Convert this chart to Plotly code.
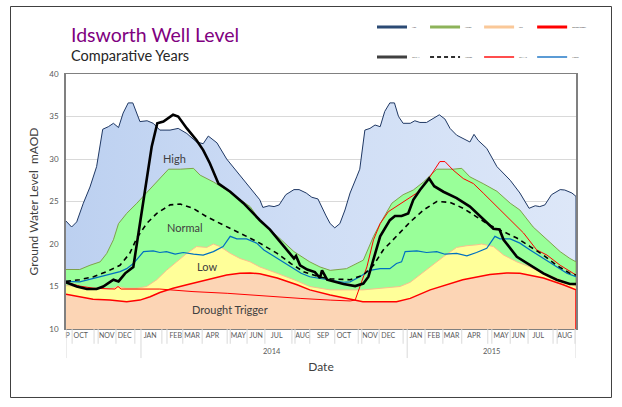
import plotly.graph_objects as go

# ---------------- data (x = week index along the category axis) ----------------
high_x = [0, 1.1, 2.1, 3.4, 4.7, 6.0, 7.2, 8.3, 9.3, 10.3, 11.2, 12.2, 13.1, 14.5, 15.9, 17.1, 18.4, 20.4, 22.0, 23.7,
          25.6, 26.9, 27.9, 29.6, 31.5, 35.4, 38.0, 38.6, 39.8, 40.8, 41.8, 43.1, 44.7, 45.7, 47.1, 48.2, 49.4, 51.0, 51.8, 52.7,
          53.7, 54.7, 55.7, 57.0, 57.6, 58.6, 59.6, 60.6, 61.6, 62.5, 63.5, 64.4, 65.2, 66.1, 67.5, 68.4, 69.4, 70.7, 72.0, 73.2,
          74.3, 75.3, 76.6, 78.6, 79.2, 80.0, 80.8, 82.5, 84.5, 87.1, 89.0, 90.8, 92.0, 92.9, 93.9, 95.2, 96.9, 97.8, 99.2, 100]
high_y = [22.7, 22.0, 22.6, 24.8, 26.7, 29.1, 33.5, 33.8, 34.2, 33.7, 35.4, 36.6, 36.6, 34.4, 34.5, 34.2, 33.4, 33.4, 33.6, 33.0,
          32.0, 31.8, 32.7, 31.9, 30.0, 27.1, 25.2, 24.3, 24.5, 24.4, 24.6, 25.8, 26.4, 26.4, 26.0, 25.5, 25.3, 23.3, 22.4, 21.9,
          22.4, 24.0, 26.0, 27.9, 28.8, 33.4, 33.6, 34.0, 33.8, 35.6, 36.6, 36.6, 35.0, 34.2, 34.2, 34.5, 34.3, 34.3, 34.8, 35.2,
          34.7, 33.6, 32.8, 32.2, 32.0, 32.9, 32.2, 31.25, 29.1, 27.5, 26.0, 24.2, 24.5, 24.4, 24.6, 25.8, 26.4, 26.35, 26.0, 25.6]

normal_x = [0, 2.7, 4.7, 6.7, 8.0, 9.3, 10.3, 11.9, 13.9, 15.8, 17.8, 20.1, 22.4, 25.0, 26.3, 28.9, 31.5, 34.1, 36.1, 38.0,
            39.4, 42.2, 44.7, 46.7, 47.8, 49.8, 51.8, 55.0, 58.3, 60.3, 61.6, 63.9, 66.1, 68.1, 70.1, 72.7, 75.9, 77.6, 79.2, 81.8,
            84.5, 87.1, 89.0, 91.6, 94.3, 96.9, 98.8, 100]
normal_y = [17.0, 17.0, 17.5, 17.9, 18.9, 20.5, 22.4, 23.6, 24.8, 26.0, 27.3, 28.8, 28.8, 28.9, 28.1, 27.3, 26.35, 25.2, 24.4, 22.8,
            22.0, 20.5, 19.1, 18.3, 17.9, 17.3, 16.9, 17.1, 18.1, 20.9, 22.4, 24.8, 25.8, 26.35, 27.3, 28.8, 28.8, 28.9, 27.9, 27.1,
            26.2, 24.8, 24.0, 22.0, 20.5, 19.1, 18.3, 17.9]

low_x = [0, 2.7, 5.7, 8.6, 10.2, 11.6, 13.9, 15.8, 17.8, 19.7, 21.7, 23.7, 25.6, 27.6, 28.9, 30.2, 32.2, 34.1, 36.1, 38.0,
         41.4, 44.7, 47.8, 51.8, 58.2, 61.6, 65.5, 67.5, 69.4, 71.4, 74.0, 76.6, 78.6, 80.5, 81.5, 83.8, 85.8, 88.4, 91.0, 93.6,
         96.9, 100]
low_y = [15.1, 15.0, 14.8, 14.7, 15.0, 14.8, 14.8, 15.0, 15.8, 16.9, 17.9, 18.9, 19.7, 19.6, 20.0, 19.7, 18.9, 18.3, 17.9, 17.3,
         16.55, 15.8, 15.0, 14.6, 14.6, 14.8, 15.0, 15.5, 16.4, 17.3, 18.5, 19.6, 19.8, 19.9, 20.0, 19.7, 18.7, 17.9, 17.3, 16.55,
         15.8, 15.0]

drought_x = [0, 2.7, 5.3, 8.6, 11.9, 14.5, 16.5, 18.4, 21.0, 23.7, 26.3, 28.9, 31.5, 34.1, 36.1, 38.0, 41.4, 45.3, 47.8, 51.8,
             54.7, 58.2, 64.8, 67.5, 71.4, 77.8, 83.1, 86.4, 89.0, 93.6, 97.5, 100]
drought_y = [14.1, 13.8, 13.5, 13.4, 13.2, 13.4, 13.8, 14.3, 14.8, 15.2, 15.6, 16.0, 16.35, 16.55, 16.6, 16.5, 16.0, 15.2, 14.6, 14.0,
             13.6, 13.2, 13.2, 13.6, 14.6, 15.8, 16.4, 16.6, 16.55, 16.0, 15.2, 14.6]

red_x = [0, 2.7, 5.3, 8.6, 9.6, 10.2, 10.8, 18.4, 24.9, 31.6, 38.0, 45.9, 51.8, 55.7, 56.7, 57.6, 59.0, 60.3, 61.6, 63.2,
         64.8, 66.8, 68.8, 70.7, 72.0, 73.3, 74.3, 75.9, 77.9, 79.9, 81.8, 84.5, 87.1, 89.7, 92.3, 94.3, 96.9, 98.8, 100]
red_y = [15.5, 15.05, 14.8, 14.7, 14.7, 15.0, 14.7, 14.7, 14.4, 14.2, 13.9, 13.6, 13.4, 13.3, 13.4, 15.0, 17.3, 20.5, 22.4, 23.8,
         24.4, 25.2, 26.0, 27.3, 28.5, 29.7, 29.7, 28.7, 27.7, 27.1, 26.0, 24.4, 22.8, 21.3, 19.3, 18.7, 17.5, 16.75, 16.35]

black_x = [0, 2.1, 4.1, 6.0, 7.3, 9.3, 10.3, 11.6, 13.2, 14.2, 15.5, 16.8, 17.9, 19.1, 21.0, 22.0, 23.7, 25.6, 26.9, 28.2,
           29.9, 32.2, 34.8, 38.0, 40.0, 42.0, 43.9, 44.7, 45.1, 45.9, 47.3, 48.8, 49.8, 50.2, 51.2, 54.4, 56.7, 58.3, 59.3, 60.3,
           61.6, 63.5, 64.5, 65.8, 67.1, 68.1, 69.4, 71.2, 72.2, 74.0, 76.6, 79.2, 81.8, 83.8, 85.0, 85.8, 88.4, 91.0, 93.6, 96.2,
           98.8, 100]
black_y = [15.5, 15.0, 14.7, 14.7, 15.0, 15.8, 15.6, 16.55, 17.3, 21.3, 26.35, 31.45, 34.2, 34.4, 35.2, 35.0, 33.6, 32.2, 31.05, 29.5,
           27.1, 26.15, 24.8, 22.8, 21.7, 20.2, 18.9, 18.3, 18.6, 17.5, 17.0, 16.7, 16.0, 16.9, 15.8, 15.3, 15.05, 15.35, 16.15, 18.1,
           20.9, 22.8, 23.3, 23.3, 23.6, 25.2, 26.35, 27.7, 26.8, 26.15, 25.4, 24.4, 22.9, 21.8, 21.7, 20.5, 18.5, 17.5, 16.55, 15.8,
           15.3, 15.3]

avg_x = [0, 2.7, 5.4, 8.0, 10.6, 12.5, 13.9, 15.8, 17.8, 20.4, 22.4, 24.9, 27.6, 30.2, 32.8, 35.4, 38.0, 41.4, 44.1, 46.7,
         49.8, 51.8, 55.7, 58.3, 60.3, 62.2, 64.8, 67.5, 70.1, 72.7, 75.3, 77.9, 80.5, 83.1, 85.8, 88.4, 91.0, 93.6, 96.2, 98.8, 100]
avg_y = [15.6, 15.8, 16.15, 16.75, 17.5, 18.9, 20.7, 22.4, 23.6, 24.6, 24.7, 24.2, 23.2, 22.4, 21.65, 20.9, 20.1, 18.9, 17.7, 16.7,
         16.1, 15.9, 15.8, 16.35, 17.5, 19.3, 20.9, 22.6, 24.0, 25.0, 24.9, 24.2, 23.2, 22.2, 21.45, 20.7, 19.7, 18.7, 17.5, 16.55, 16.35]

blue_x = [0, 2.7, 5.4, 8.0, 10.6, 11.9, 13.2, 15.2, 17.1, 18.4, 19.7, 21.4, 23.0, 25.0, 26.9, 28.9, 30.8, 32.2, 33.5, 35.4,
          37.4, 38.8, 41.4, 44.1, 46.1, 47.8, 51.8, 54.4, 55.7, 57.6, 59.6, 61.6, 63.5, 64.8, 65.8, 66.5, 68.8, 70.7, 72.7, 74.3,
          76.6, 78.6, 80.5, 82.5, 84.1, 85.1, 87.1, 89.0, 91.0, 93.6, 96.2, 98.2, 100]
blue_y = [15.6, 15.55, 15.95, 16.35, 16.75, 17.1, 17.7, 19.1, 19.2, 19.0, 19.1, 18.8, 19.0, 18.8, 18.7, 19.1, 19.7, 20.9, 20.6, 20.6,
          20.1, 19.3, 18.3, 17.3, 16.55, 16.15, 15.8, 15.5, 15.55, 16.15, 16.9, 17.1, 17.1, 17.7, 17.9, 19.1, 19.2, 19.0, 19.1, 18.8,
          18.9, 18.6, 19.0, 19.5, 20.9, 20.6, 20.6, 20.1, 19.3, 18.3, 17.3, 16.55, 16.15]

month_labels = ["P", "OCT", "NOV", "DEC", "JAN", "FEB", "MAR", "APR", "MAY", "JUN", "JUL", "AUG",
                "SEP", "OCT", "NOV", "DEC", "JAN", "FEB", "MAR", "APR", "MAY", "JUN", "JUL", "AUG"]
month_pos = [0.3, 2.9, 8.0, 11.5, 16.5, 21.5, 24.7, 28.7, 33.8, 37.3, 41.3, 46.4,
             50.4, 54.5, 59.6, 63.2, 68.6, 72.1, 75.6, 80.0, 85.3, 88.7, 92.6, 97.8]
label_separators = [1.2, 5.5, 6.3, 9.8, 13.5, 18.8, 19.8, 22.9, 26.7, 31.6, 32.2, 35.5, 39.0, 44.3, 44.9, 47.8,
                    52.7, 57.3, 58.0, 61.4, 66.1, 70.4, 73.9, 77.6, 82.7, 83.5, 87.1, 90.6, 95.5, 96.3, 99.8]
year_labels = ["2014", "2015"]
year_label_pos = [40.4, 83.5]
year_bounds = [0, 14.7, 66.9, 100]

AXIS_FLOOR = 0  # areas are filled down to the zero line (below the visible range)

FONT = "Lato, Carlito, Calibri, 'Open Sans', sans-serif"

fig = go.Figure()


def add_area(xs, ys, line_color, fill_color, width, fillgradient=None):
    px = list(xs) + [xs[-1], xs[0]]
    py = list(ys) + [AXIS_FLOOR, AXIS_FLOOR]
    kw = dict(fillgradient=fillgradient) if fillgradient else dict(fillcolor=fill_color)
    fig.add_trace(go.Scatter(x=px, y=py, mode="lines", fill="toself",
                             line=dict(color=line_color, width=width),
                             showlegend=False, hoverinfo="skip", **kw))


add_area(high_x, high_y, "#1F3864", None, 1,
         fillgradient=dict(type="horizontal",
                           colorscale=[[0, "#BCD0F0"], [0.45, "#CEDDF5"], [1, "#DDE7F8"]]))
add_area(normal_x, normal_y, "#7FA24A", "#99FF99", 1)
add_area(low_x, low_y, "#F9C08E", "#FFFF99", 1)
add_area(drought_x, drought_y, "#FF0000", "#FCD5B5", 1.5)

fig.add_trace(go.Scatter(x=red_x, y=red_y, mode="lines", line=dict(color="#FF0000", width=1),
                         showlegend=False, hoverinfo="skip"))
fig.add_trace(go.Scatter(x=blue_x, y=blue_y, mode="lines", line=dict(color="#0070C0", width=1.2),
                         showlegend=False, hoverinfo="skip"))
fig.add_trace(go.Scatter(x=avg_x, y=avg_y, mode="lines", line=dict(color="#000000", width=1.6, dash="5px,4px"),
                         showlegend=False, hoverinfo="skip"))
fig.add_trace(go.Scatter(x=black_x, y=black_y, mode="lines", line=dict(color="#000000", width=2.6),
                         showlegend=False, hoverinfo="skip"))

# legend entries: 2 rows x 4 columns, one small legend box per entry
legend_items = [
    ("High", "#2B4A74", 3, "solid"), ("Normal", "#8DB35A", 3, "solid"),
    ("Low", "#FAC898", 3, "solid"), ("Drought Trigger", "#FF0000", 3, "solid"),
    ("2013-14", "#404040", 3, "solid"), ("Average", "#303030", 2, "4px,3px"),
    ("2014-15", "#FF4D4D", 2, "solid"), ("Median", "#5B9BD5", 2, "solid"),
]
legend_cols = [0.600, 0.704, 0.810, 0.914]
legend_rows = [1.184, 1.067]

legend_layout = {}
for i, (name, col, w, dash) in enumerate(legend_items):
    lg = "legend" if i == 0 else f"legend{i + 1}"
    fig.add_trace(go.Scatter(x=[None], y=[None], mode="lines", name=name, legend=lg,
                             line=dict(color=col, width=w, dash=dash)))
    legend_layout[lg] = dict(x=legend_cols[i % 4], y=legend_rows[i // 4], xanchor="left", yanchor="middle",
                             orientation="h", itemwidth=30, bgcolor="rgba(0,0,0,0)", borderwidth=0,
                             font=dict(size=2, color="#404040", family=FONT))

fig.update_layout(
    width=622, height=407,
    margin=dict(l=66, r=46, t=74, b=78, autoexpand=False),
    paper_bgcolor="white", plot_bgcolor="white",
    font=dict(family=FONT, color="#404040"),
    xaxis=dict(range=[0, 100], tickmode="array", tickvals=month_pos, ticktext=month_labels,
               ticks="", tickangle=0, tickfont=dict(size=7, color="#595959"), showgrid=False, zeroline=False,
               showline=True, mirror=True, linecolor="#808080", linewidth=1,
               title=dict(text="Date", font=dict(size=12, color="#404040"), standoff=24)),
    yaxis=dict(range=[10, 40], dtick=5, tick0=10, showgrid=True, gridcolor="#D9D9D9", gridwidth=1,
               zeroline=False, showline=True, mirror=True, linecolor="#808080", linewidth=1.5,
               ticks="outside", ticklen=4, tickcolor="rgba(0,0,0,0)",
               tickfont=dict(size=8, color="#595959"),
               title=dict(text="Ground Water Level  mAOD", font=dict(size=12, color="#404040"), standoff=8)),
    **legend_layout,
)

shapes = []
for s in label_separators:
    shapes.append(dict(type="line", xref="x", yref="paper", x0=s, x1=s, y0=0, y1=-0.058,
                       line=dict(color="#D9D9D9", width=1)))
for b in year_bounds:
    shapes.append(dict(type="line", xref="x", yref="paper", x0=b, x1=b, y0=0, y1=-0.114,
                       line=dict(color="#D9D9D9", width=1)))
shapes.append(dict(type="rect", xref="paper", yref="paper", x0=-0.1088, x1=1.0696, y0=-0.2686, y1=1.2647,
                   line=dict(color="#404040", width=1), fillcolor="rgba(0,0,0,0)", layer="below"))
fig.update_layout(shapes=shapes)

annotations = [
    dict(text="Idsworth Well Level", xref="paper", yref="paper", x=0.005, y=1.153, xanchor="left",
         yanchor="middle", showarrow=False, font=dict(size=19.5, color="#800080", family=FONT)),
    dict(text="Comparative Years", xref="paper", yref="paper", x=0.006, y=1.0745, xanchor="left",
         yanchor="middle", showarrow=False, font=dict(size=14.5, color="#262626", family=FONT)),
    dict(text="High", x=21.2, y=30.1, showarrow=False, font=dict(size=11, color="#404040")),
    dict(text="Normal", x=23.3, y=21.9, showarrow=False, font=dict(size=11, color="#404040")),
    dict(text="Low", x=27.6, y=17.3, showarrow=False, font=dict(size=11, color="#404040")),
    dict(text="Drought Trigger", x=32.2, y=12.35, showarrow=False, font=dict(size=11, color="#404040")),
]
for lbl, pos in zip(year_labels, year_label_pos):
    annotations.append(dict(text=lbl, x=pos, xref="x", yref="paper", y=-0.0863, yanchor="middle",
                            showarrow=False, font=dict(size=7.5, color="#595959")))
fig.update_layout(annotations=annotations)

fig.write_html("out.html")
